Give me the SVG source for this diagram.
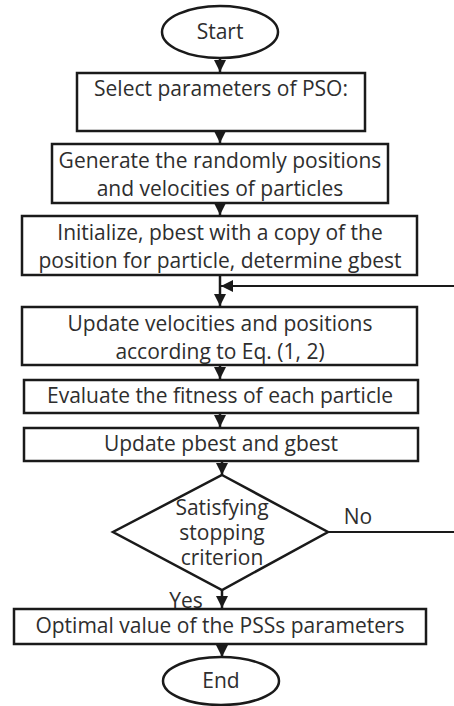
<svg xmlns="http://www.w3.org/2000/svg" width="454" height="706" viewBox="0 0 454 706">
<defs>
<marker id="ah" markerUnits="userSpaceOnUse" markerWidth="14" markerHeight="12" refX="12" refY="6" orient="auto">
<path d="M0,0 L12,6 L0,12 Z" fill="#1a1a1a"/>
</marker>
<style>
.box{fill:#fff;stroke:#1a1a1a;stroke-width:2.5}
.t{font-family:"Open Sans","Liberation Sans",sans-serif;font-size:21px;fill:#2e2e2e;text-anchor:middle}
.c{fill:none;stroke:#1a1a1a;stroke-width:2.5}
.c2{fill:none;stroke:#1a1a1a;stroke-width:1.8}
</style>
</defs>
<rect width="454" height="706" fill="#fff"/>
<g id="connectors">
<line class="c" x1="220" y1="58" x2="220" y2="72" marker-end="url(#ah)"/>
<line class="c" x1="220" y1="131" x2="220" y2="143" marker-end="url(#ah)"/>
<line class="c" x1="220" y1="203" x2="220" y2="215" marker-end="url(#ah)"/>
<line class="c" x1="220" y1="275" x2="220" y2="306" marker-end="url(#ah)"/>
<line class="c2" x1="454" y1="286" x2="221" y2="286" marker-end="url(#ah)"/>
<line class="c" x1="220" y1="365" x2="220" y2="379" marker-end="url(#ah)"/>
<line class="c" x1="220" y1="413" x2="220" y2="427" marker-end="url(#ah)"/>
<line class="c" x1="222" y1="461" x2="222" y2="475" marker-end="url(#ah)"/>
<line class="c" x1="222" y1="590" x2="222" y2="608" marker-end="url(#ah)"/>
<line class="c" x1="222" y1="644" x2="222" y2="657" marker-end="url(#ah)"/>
<line class="c2" x1="328" y1="532" x2="454" y2="532"/>
<text class="t" x="358" y="524">No</text>
<text class="t" x="186" y="608">Yes</text>
</g>
<g id="start">
<ellipse class="box" cx="220" cy="32" rx="58" ry="26"/>
<text class="t" x="220" y="39">Start</text>
</g>
<g id="select">
<rect class="box" x="77" y="73" width="288" height="58"/>
<text class="t" x="221" y="96">Select parameters of PSO:</text>
</g>
<g id="generate">
<rect class="box" x="52" y="144" width="336" height="59"/>
<text class="t" x="220" y="168">Generate the randomly positions</text>
<text class="t" x="220" y="196">and velocities of particles</text>
</g>
<g id="initialize">
<rect class="box" x="22" y="216" width="395" height="59"/>
<text class="t" x="220" y="240">Initialize, pbest with a copy of the</text>
<text class="t" x="220" y="268">position for particle, determine gbest</text>
</g>
<g id="update-vel">
<rect class="box" x="22" y="307" width="395" height="58"/>
<text class="t" x="220" y="331">Update velocities and positions</text>
<text class="t" x="220" y="359">according to Eq. (1, 2)</text>
</g>
<g id="evaluate">
<rect class="box" x="24" y="380" width="394" height="33"/>
<text class="t" x="220" y="403">Evaluate the fitness of each particle</text>
</g>
<g id="update-best">
<rect class="box" x="24" y="428" width="394" height="33"/>
<text class="t" x="221" y="451">Update pbest and gbest</text>
</g>
<g id="decision">
<polygon class="box" points="222,475 328,532 222,590 113,532"/>
<text class="t" x="222" y="515">Satisfying</text>
<text class="t" x="222" y="540">stopping</text>
<text class="t" x="222" y="565">criterion</text>
</g>
<g id="optimal">
<rect class="box" x="14" y="609" width="412" height="35"/>
<text class="t" x="220" y="633">Optimal value of the PSSs parameters</text>
</g>
<g id="end">
<ellipse class="box" cx="221" cy="681" rx="58" ry="24"/>
<text class="t" x="221" y="688">End</text>
</g>
</svg>
